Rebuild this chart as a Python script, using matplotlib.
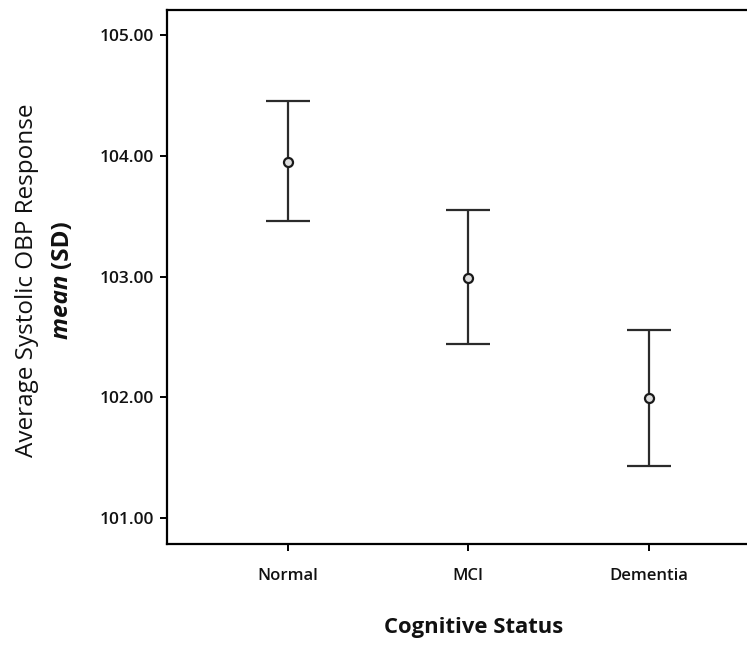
import matplotlib
matplotlib.use("Agg")
import matplotlib.pyplot as plt
from matplotlib.ticker import FormatStrFormatter

categories = ["Normal", "MCI", "Dementia"]
means = [103.95, 102.99, 101.99]
lower = [103.46, 102.44, 101.43]
upper = [104.45, 103.55, 102.56]
yticks = [101.0, 102.0, 103.0, 104.0, 105.0]

W, H = 747, 645
fig = plt.figure(figsize=(W / 100, H / 100), dpi=100)
fig.patch.set_facecolor("white")

ax = fig.add_axes([166.5 / W, (H - 544) / H, (770 - 166.5) / W, (544 - 10) / H])

x = list(range(len(categories)))
yerr = [[m - l for m, l in zip(means, lower)], [u - m for m, u in zip(means, upper)]]
ax.errorbar(x, means, yerr=yerr, fmt="o", color="#2b2b2b", ecolor="#2b2b2b",
            elinewidth=1.6, capsize=15.5, capthick=1.6,
            markersize=6.5, markerfacecolor="#dddddd", markeredgecolor="#1a1a1a",
            markeredgewidth=1.6, zorder=3)

ax.set_xlim(-0.67, 2.67)
ax.set_ylim(100.785, 105.207)
ax.set_xticks(x)
ax.set_xticklabels(categories)
ax.set_yticks(yticks)
ax.yaxis.set_major_formatter(FormatStrFormatter("%.2f"))

for s in ["left", "bottom", "top", "right"]:
    ax.spines[s].set_linewidth(1.6)
    ax.spines[s].set_color("black")

font = "Open Sans"
ax.tick_params(axis="y", length=5, width=1.4, pad=4, labelsize=12.5)
ax.tick_params(axis="x", length=5, width=1.4, pad=12, labelsize=12)
for lab in ax.get_xticklabels() + ax.get_yticklabels():
    lab.set_fontfamily(font)
    lab.set_fontweight("semibold")
    lab.set_color("#111111")

fs = 17.5
yc = 280
fig.text(27 / W, 1 - yc / H, "Average Systolic OBP Response", rotation=90,
         ha="center", va="center", fontsize=fs, family=font, color="#111111")

# second line: bold italic "mean" followed by bold "(SD)", laid out contiguously
t1 = fig.text(62 / W, 0, "mean ", rotation=90, ha="center", va="bottom",
              fontsize=fs, family=font, fontweight="bold", fontstyle="italic",
              color="#111111")
t2 = fig.text(62 / W, 0, "(SD)", rotation=90, ha="center", va="bottom",
              fontsize=fs, family=font, fontweight="bold", color="#111111")
r = fig.canvas.get_renderer()
h1 = t1.get_window_extent(r).height
h2 = t2.get_window_extent(r).height
total = h1 + h2
start = (H - yc) - total / 2
t1.set_position((62 / W, start / H))
t2.set_position((62 / W, (start + h1) / H))

fig.text(474 / W, 1 - 627 / H, "Cognitive Status", ha="center", va="center",
         fontsize=15.8, family=font, fontweight="bold", color="#111111")

fig.savefig("out.png", dpi=100, facecolor="white")
